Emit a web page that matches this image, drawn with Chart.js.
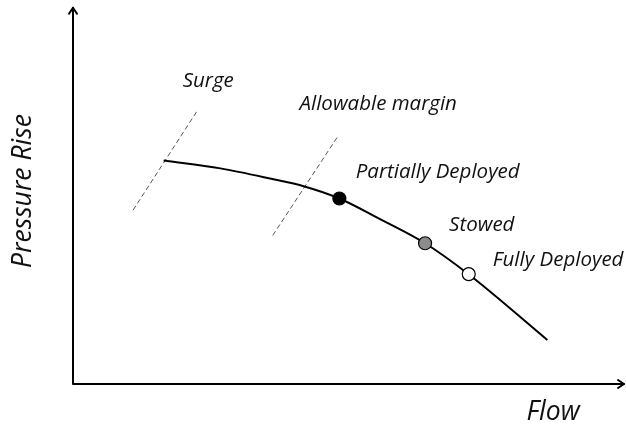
<!DOCTYPE html>
<html>
<head>
<meta charset="utf-8">
<script src="https://cdn.jsdelivr.net/npm/chart.js@4"></script>
<style>
  html, body { margin: 0; padding: 0; background: #fff; }
  #wrap { width: 626px; height: 433px; }
</style>
</head>
<body>
<div id="wrap"><canvas id="chart" width="626" height="433"></canvas></div>
<script>
// performance curve (flow vs pressure rise, arbitrary units 0-100)
const curveFlow     = [16.3, 26.7, 35.8, 42.1, 48.5, 55.7, 64.2, 72.4, 86.6];
const curvePressure = [59.4, 57.3, 54.6, 52.5, 49.3, 44.0, 37.4, 28.9, 11.7];

// operating points
const pointNames    = ['Partially Deployed', 'Stowed', 'Fully Deployed'];
const pointFlow     = [48.5, 64.2, 72.2];
const pointPressure = [49.3, 37.4, 29.2];
const pointColors   = ['#000000', '#8c8c8c', '#ffffff'];

// dashed limit lines
const surgeFlow      = [10.7, 22.5];
const surgePressure  = [46.2, 72.7];
const marginFlow     = [36.3, 48.3];
const marginPressure = [39.5, 66.0];

// text annotations (left edge, vertical middle)
const noteTexts    = ['Surge', 'Allowable margin', 'Partially Deployed', 'Stowed', 'Fully Deployed'];
const noteFlow     = [19.8, 41.2, 51.5, 68.6, 76.6];
const notePressure = [80.6, 74.3, 56.2, 42.2, 32.9];

const xTitle = 'Flow';
const yTitle = 'Pressure Rise';

const toXY = (xs, ys) => xs.map((x, i) => ({ x: x, y: ys[i] }));

// axes with open arrow heads, titles and notes
const sketchPlugin = {
    id: 'sketch',
    afterDatasetsDraw(chart) {
        const ctx = chart.ctx;
        const a = chart.chartArea;
        const sx = chart.scales.x, sy = chart.scales.y;
        const xEnd = chart.width - 2;
        ctx.save();
        ctx.strokeStyle = '#000';
        ctx.lineWidth = 2;
        ctx.lineCap = 'round';
        ctx.lineJoin = 'round';
        ctx.beginPath();
        ctx.moveTo(a.left, a.top);
        ctx.lineTo(a.left, a.bottom);
        ctx.lineTo(xEnd, a.bottom);
        ctx.stroke();
        // arrow heads
        ctx.beginPath();
        ctx.moveTo(a.left - 4, a.top + 6);
        ctx.lineTo(a.left, a.top);
        ctx.lineTo(a.left + 4, a.top + 6);
        ctx.moveTo(xEnd - 6, a.bottom - 4);
        ctx.lineTo(xEnd, a.bottom);
        ctx.lineTo(xEnd - 6, a.bottom + 4);
        ctx.stroke();

        ctx.fillStyle = '#111';
        ctx.font = 'italic 20.5px "Open Sans"';
        ctx.textBaseline = 'middle';
        ctx.textAlign = 'left';
        noteTexts.forEach((t, i) => {
            ctx.fillText(t, sx.getPixelForValue(noteFlow[i]), sy.getPixelForValue(notePressure[i]));
        });

        ctx.font = 'italic 26.5px "Open Sans"';
        ctx.textAlign = 'center';
        ctx.fillText(xTitle, 553, 412);
        ctx.translate(23, 191);
        ctx.rotate(-Math.PI / 2);
        ctx.fillText(yTitle, 0, 0);
        ctx.restore();
    }
};

new Chart(document.getElementById('chart'), {
    type: 'scatter',
    data: {
        datasets: [
            {
                data: toXY(pointFlow, pointPressure),
                showLine: false,
                pointRadius: 6.5,
                pointBackgroundColor: pointColors,
                pointBorderColor: '#000',
                pointBorderWidth: 1.2,
                order: 0
            },
            {
                data: toXY(curveFlow, curvePressure),
                showLine: true,
                borderColor: '#000',
                borderWidth: 2,
                pointRadius: 0,
                cubicInterpolationMode: 'monotone',
                order: 1
            },
            {
                data: toXY(surgeFlow, surgePressure),
                showLine: true,
                borderColor: '#555',
                borderWidth: 1,
                borderDash: [5, 3],
                pointRadius: 0,
                order: 2
            },
            {
                data: toXY(marginFlow, marginPressure),
                showLine: true,
                borderColor: '#555',
                borderWidth: 1,
                borderDash: [5, 3],
                pointRadius: 0,
                order: 2
            }
        ]
    },
    options: {
        responsive: false,
        animation: false,
        devicePixelRatio: 1,
        layout: { padding: { left: 73, top: 4, right: 0, bottom: 49 } },
        plugins: { legend: { display: false }, tooltip: { enabled: false } },
        scales: {
            x: { display: false, min: -0.3, max: 99.6 },
            y: { display: false, min: 0, max: 100 }
        }
    },
    plugins: [sketchPlugin]
});
</script>
</body>
</html>
